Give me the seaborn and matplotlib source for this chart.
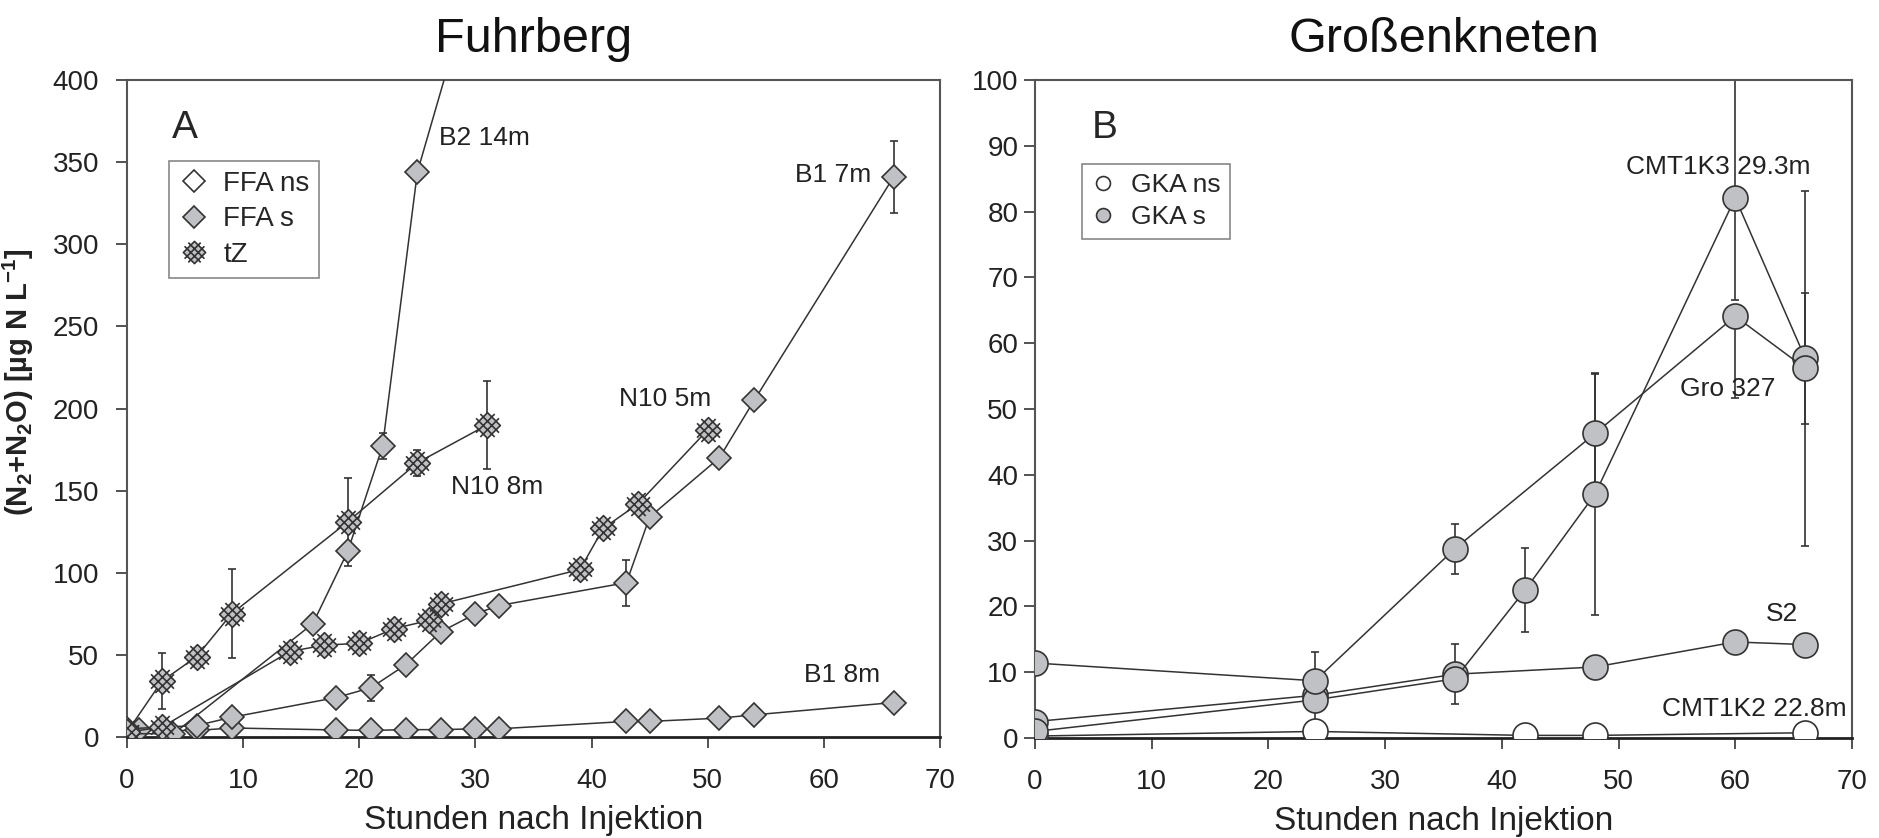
import numpy as np
import matplotlib
matplotlib.use("Agg")
import matplotlib.pyplot as plt
from matplotlib.path import Path
from matplotlib.lines import Line2D
import seaborn as sns

sns.set_style("ticks")
plt.rcParams['font.family'] = ['Liberation Sans', 'DejaVu Sans']
plt.rcParams['mathtext.fontset'] = 'custom'
plt.rcParams['mathtext.rm'] = 'Liberation Sans'
plt.rcParams['mathtext.bf'] = 'Liberation Sans:bold'

# --- Fuhrberg (A) ---
b2_14_x = [0, 4, 16, 19, 22, 25, 30]
b2_14_y = [2, 2, 69, 113, 177, 344, 466]
b2_14_err = [0, 0, 0, 5, 8, 0, 0]

b1_7_x = [0, 6, 9, 18, 21, 24, 27, 30, 32, 43, 45, 51, 54, 66]
b1_7_y = [5, 7, 12, 24, 30, 44, 64, 75, 80, 94, 134, 170, 205, 341]
b1_7_err = [0, 0, 0, 0, 8, 0, 0, 0, 0, 14, 0, 0, 0, 22]

b1_8_x = [1, 6, 9, 18, 21, 24, 27, 30, 32, 43, 45, 51, 54, 66]
b1_8_y = [4, 4, 5.5, 4.3, 4, 4.5, 4.5, 5, 5, 9.5, 9.5, 11.5, 13.5, 21]

n10_8_x = [0, 3, 6, 9, 19, 25, 31]
n10_8_y = [3, 34, 49, 75, 131, 167, 190]
n10_8_err = [0, 17, 0, 27, 27, 8, 27]

n10_5_x = [0, 3, 14, 17, 20, 23, 26, 27, 39, 41, 44, 50]
n10_5_y = [3, 6, 52, 56, 57, 66, 71, 81, 102, 127, 142, 187]

# --- Grossenkneten (B) ---
gro_x = [0, 24, 36, 48, 60, 66]
gro_y = [11.4, 8.7, 28.8, 46.3, 64.1, 56.2]
gro_err_lo = [0, 4.4, 3.8, 9, 12.5, 27]
gro_err_hi = [0, 4.4, 3.8, 9, 0, 27]

k3_x = [0, 24, 36, 42, 48, 60, 66]
k3_y = [1.0, 5.8, 9.0, 22.5, 37.1, 82.1, 57.7]
k3_err_lo = [0, 3, 0, 6.4, 18.4, 15.6, 10]
k3_err_hi = [0, 3, 0, 6.4, 18.4, 25, 10]

s2_x = [0, 24, 36, 48, 60, 66]
s2_y = [2.5, 6.5, 9.7, 10.8, 14.6, 14.2]
s2_err = [0, 0, 4.6, 0, 0, 0]

k2_x = [0, 24, 42, 48, 66]
k2_y = [0.3, 1.0, 0.4, 0.4, 0.8]
k2_err = [0, 1.0, 0.7, 0.7, 0]

gray = '#c0c1c5'
edge = '#333333'
linec = '#333333'

# tZ marker: diamond with a 3x3 lattice sticking out a little
c, e = 1 / 3, 1.45
verts = [(0, 1), (1, 0), (0, -1), (-1, 0), (0, 1)]
codes = [Path.MOVETO, Path.LINETO, Path.LINETO, Path.LINETO, Path.CLOSEPOLY]
for cc in (-c, c):
    verts += [((cc - e) / 2, (cc + e) / 2), ((cc + e) / 2, (cc - e) / 2)]
    codes += [Path.MOVETO, Path.LINETO]
    verts += [((cc - e) / 2, (-cc - e) / 2), ((cc + e) / 2, (-cc + e) / 2)]
    codes += [Path.MOVETO, Path.LINETO]
tz_marker = Path(verts, codes)

fig = plt.figure(figsize=(18.79, 8.38), dpi=100)
ax1 = fig.add_axes([0.0676, 0.1205, 0.4327, 0.784])
ax2 = fig.add_axes([0.5508, 0.1193, 0.4348, 0.7852])


def series(ax, x, y, marker, ms, fc='gray'):
    sns.lineplot(x=x, y=y, ax=ax, sort=False, estimator=None, color=linec,
                 linewidth=1.1, marker=marker, markersize=ms,
                 markerfacecolor=gray if fc == 'gray' else fc,
                 markeredgecolor=edge, markeredgewidth=1.2, zorder=3)


def errs(ax, x, y, lo, hi=None):
    x, y, lo = np.array(x), np.array(y), np.array(lo)
    hi = lo if hi is None else np.array(hi)
    m = (lo > 0) | (hi > 0)
    ax.errorbar(x[m], y[m], yerr=[lo[m], hi[m]], fmt='none', ecolor=linec,
                elinewidth=1.2, capsize=3, capthick=1.2, zorder=2)


# panel A
errs(ax1, b2_14_x, b2_14_y, b2_14_err)
errs(ax1, b1_7_x, b1_7_y, b1_7_err)
errs(ax1, n10_8_x, n10_8_y, n10_8_err)
series(ax1, b1_8_x, b1_8_y, 'D', 12.5)
series(ax1, b1_7_x, b1_7_y, 'D', 12.5)
series(ax1, b2_14_x, b2_14_y, 'D', 12.5)
series(ax1, n10_5_x, n10_5_y, tz_marker, 18.5)
series(ax1, n10_8_x, n10_8_y, tz_marker, 18.5)

# panel B
errs(ax2, k2_x, k2_y, k2_err)
errs(ax2, gro_x, gro_y, gro_err_lo, gro_err_hi)
errs(ax2, k3_x, k3_y, k3_err_lo, k3_err_hi)
errs(ax2, s2_x, s2_y, s2_err)
series(ax2, k2_x, k2_y, 'o', 18, fc='white')
series(ax2, s2_x, s2_y, 'o', 18)
series(ax2, k3_x, k3_y, 'o', 18)
series(ax2, gro_x, gro_y, 'o', 18)

ax1.set_xlim(0, 70)
ax1.set_ylim(0, 400)
ax1.set_yticks(range(0, 401, 50))
ax2.set_xlim(0, 70)
ax2.set_ylim(0, 100)
ax2.set_yticks(range(0, 101, 10))
for ax in (ax1, ax2):
    ax.set_xticks(range(0, 71, 10))
    for s in ax.spines.values():
        s.set_visible(True)
        s.set_color('#555555')
        s.set_linewidth(1.5)
    ax.spines['bottom'].set_color('#222222')
    ax.spines['bottom'].set_linewidth(2)
    ax.tick_params(direction='out', length=8, width=1.3, color='#444444',
                   labelsize=20, labelcolor='#222222')
    ax.tick_params(axis='x', pad=14)
    ax.set_xlabel('Stunden nach Injektion', fontsize=24, color='#222222', labelpad=8)
ax1.tick_params(axis='y', pad=12)
ax2.tick_params(axis='y', pad=4)

ax1.set_ylabel(r'(N$_\mathbf{2}$+N$_\mathbf{2}$O) [µg N L$^\mathbf{-1}$]',
               fontsize=21, fontweight='bold', color='#222222')
ax1.yaxis.set_label_coords(-0.112, 0.54)
ax2.set_ylabel('')

ax1.set_title('Fuhrberg', fontsize=35, pad=20, color='#111111')
ax2.set_title('Großenkneten', fontsize=35, pad=20, color='#111111')

ax1.text(0.055, 0.955, 'A', transform=ax1.transAxes, fontsize=28, va='top', ha='left')
ax2.text(0.07, 0.955, 'B', transform=ax2.transAxes, fontsize=28, va='top', ha='left')

lab = dict(fontsize=19, va='center', ha='left', color='#222222')
ax1.text(26.9, 365, 'B2 14m', **lab)
ax1.text(57.5, 342, 'B1 7m', **lab)
ax1.text(42.4, 206, 'N10 5m', **lab)
ax1.text(27.9, 152, 'N10 8m', **lab)
ax1.text(58.3, 38, 'B1 8m', **lab)
ax2.text(50.6, 86.8, 'CMT1K3 29.3m', **lab)
ax2.text(55.3, 53.1, 'Gro 327', **lab)
ax2.text(62.6, 18.8, 'S2', **lab)
ax2.text(53.7, 4.4, 'CMT1K2 22.8m', **lab)

mk = dict(linestyle='none', markeredgecolor=edge, markeredgewidth=1.2)
h1 = [Line2D([], [], marker='D', markersize=11, markerfacecolor='white', **mk),
      Line2D([], [], marker='D', markersize=11, markerfacecolor=gray, **mk),
      Line2D([], [], marker=tz_marker, markersize=16, markerfacecolor=gray, **mk)]
leg1 = ax1.legend(h1, ['FFA ns', 'FFA s', 'tZ'], loc='upper left',
                  bbox_to_anchor=(0.052, 0.877), borderaxespad=0, fancybox=False,
                  edgecolor='#888888', framealpha=1, fontsize=20, handlelength=1.1,
                  handletextpad=0.5, labelspacing=0.35, borderpad=0.35)
leg1.get_frame().set_linewidth(1.2)

h2 = [Line2D([], [], marker='o', markersize=10, markerfacecolor='white', **mk),
      Line2D([], [], marker='o', markersize=10, markerfacecolor=gray, **mk)]
leg2 = ax2.legend(h2, ['GKA ns', 'GKA s'], loc='upper left',
                  bbox_to_anchor=(0.0575, 0.872), borderaxespad=0, fancybox=False,
                  edgecolor='#888888', framealpha=1, fontsize=19, handlelength=0.9,
                  handletextpad=0.6, labelspacing=0.3, borderpad=0.35)
leg2.get_frame().set_linewidth(1.2)

fig.savefig('out.png', dpi=100)
